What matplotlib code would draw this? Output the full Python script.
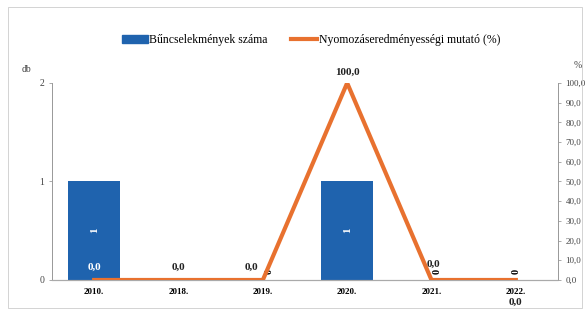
import matplotlib.pyplot as plt
from matplotlib.patches import Rectangle
from matplotlib.lines import Line2D
import numpy as np

# Data
years = ["2010.", "2018.", "2019.", "2020.", "2021.", "2022."]
crimes = [1, 0, 0, 1, 0, 0]
rate = [0.0, 0.0, 0.0, 100.0, 0.0, 0.0]

blue = '#1f63ae'
orange = '#e8712f'
plt.rcParams['font.family'] = ['Liberation Serif', 'DejaVu Serif']

fig = plt.figure(figsize=(5.87, 3.14), dpi=100)
ax = fig.add_axes([0.0886, 0.1083, 0.862, 0.6274])
ax2 = ax.twinx()

x = np.arange(len(years))
bars = ax.bar(x, crimes, width=0.62, color=blue, zorder=2)
ax.set_ylim(0, 2)
ax.set_xlim(-0.5, len(years) - 0.5)
ax.set_yticks([0, 1, 2])
ax.set_xticks(x)
ax.set_xticklabels(years, fontsize=6.5, fontweight='bold')
ax.tick_params(axis='y', labelsize=7, length=2, width=0.5, color='#888888', labelcolor='#444444')
ax.tick_params(axis='x', length=0, pad=6)

ax2.plot(x, rate, color=orange, lw=3, zorder=3)
ax2.set_ylim(0, 100)
ax2.set_yticks(np.arange(0, 101, 10))
ax2.set_yticklabels([f"{v:.1f}".replace('.', ',') for v in np.arange(0, 101, 10)])
ax2.tick_params(axis='y', labelsize=6.5, length=2, width=0.5, color='#888888', labelcolor='#444444')

for a in (ax, ax2):
    a.spines['top'].set_visible(False)
    a.spines['left'].set_color('#999999')
    a.spines['left'].set_linewidth(0.6)
    a.spines['right'].set_color('#999999')
    a.spines['right'].set_linewidth(0.6)
    a.spines['bottom'].set_color('#aaaaaa')
    a.spines['bottom'].set_linestyle((0, (1, 1)))
    a.spines['bottom'].set_linewidth(0.8)
ax2.set_zorder(ax.get_zorder() + 1)
ax2.patch.set_visible(False)

# bar value labels (rotated)
for xi, v in zip(x, crimes):
    if v > 0:
        ax.text(xi, v / 2, str(v), rotation=90, ha='center', va='center',
                color='white', fontsize=8, fontweight='bold')
for xi in (2, 4, 5):
    ax.text(xi + (0.07 if xi != 5 else 0), 0.09, "0", rotation=90, ha='center', va='center',
            color='black', fontsize=7.5, fontweight='bold')

# line value labels
lbl = dict(fontsize=8, fontweight='bold', ha='center')
ax2.text(0, 5, "0,0", color='white', **lbl)
ax2.text(1, 5, "0,0", color='#222222', **lbl)
ax2.text(1.86, 5, "0,0", color='#222222', **lbl)
ax2.text(3, 104, "100,0", color='#222222', **lbl)
ax2.text(4.02, 6.5, "0,0", color='#222222', **lbl)
ax2.text(5, -9, "0,0", color='#222222', va='top', fontsize=8, fontweight='bold', ha='center')

fig.text(22 / 587, 1 - 70 / 314, "db", fontsize=7, color='#444444', ha='left', va='center')
fig.text(578 / 587, 1 - 66 / 314, "%", fontsize=7, color='#444444', ha='center', va='center')

handles = [Rectangle((0, 0), 1, 1, color=blue), Line2D([], [], color=orange, lw=3)]
fig.legend(handles, ["Bűncselekmények száma", "Nyomozáseredményességi mutató (%)"],
           loc='center', bbox_to_anchor=(0.53, 1 - 40 / 314), ncol=2, frameon=False,
           fontsize=8.5, handlelength=2.2, handletextpad=0.1, columnspacing=2.0)

# scanned frame
fig.patches.append(Rectangle((8 / 587, 1 - 308 / 314), 574 / 587, 301 / 314,
                             transform=fig.transFigure, fill=False, ec='#cccccc', lw=0.6))

fig.savefig('out.png', dpi=100)
